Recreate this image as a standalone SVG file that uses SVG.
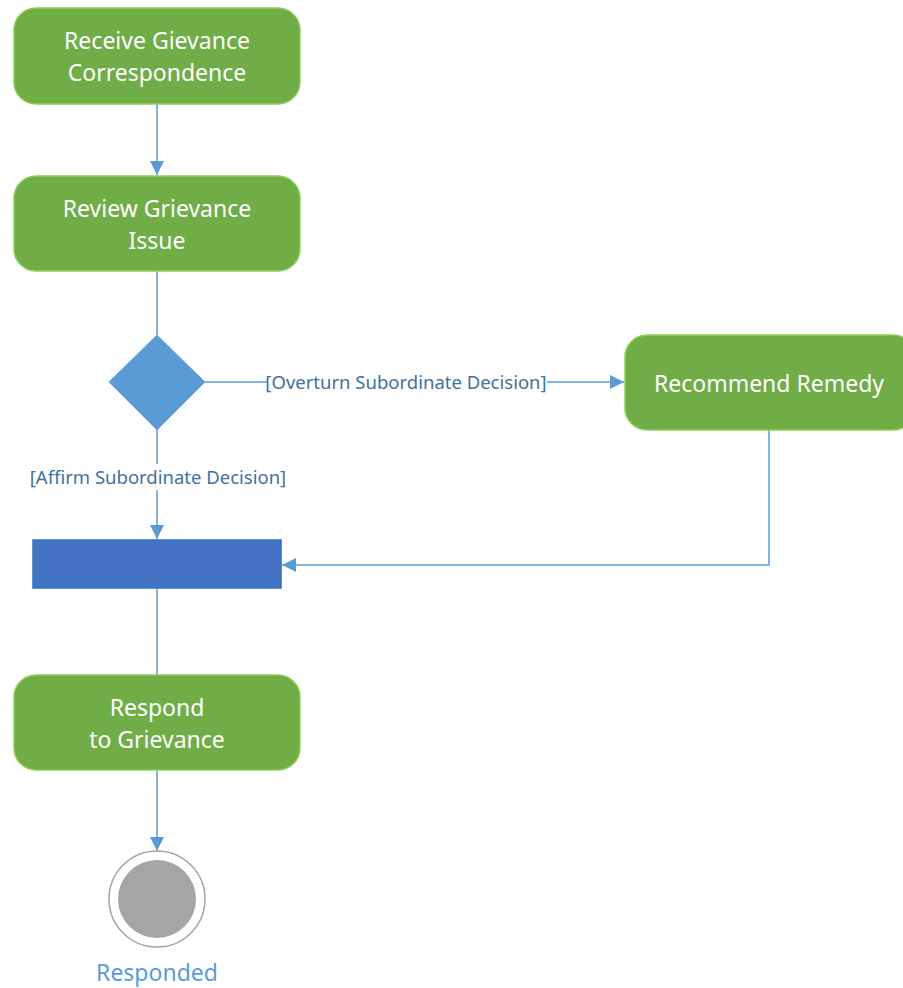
<svg xmlns="http://www.w3.org/2000/svg" width="903" height="988" viewBox="0 0 903 988">
<defs>
<style>
.act{fill:#70ad47;stroke:#8ccf5a;stroke-width:1.5}
.at{fill:#ffffff;font-family:"Noto Sans","Liberation Sans",sans-serif;font-size:23px;text-anchor:middle}
.ln{fill:none;stroke:#5b9bd5;stroke-width:1.5}
.lb{fill:#41719c;font-family:"Noto Sans","Liberation Sans",sans-serif;font-size:18.5px;text-anchor:middle}
</style>
<marker id="ah" viewBox="0 0 10 10" refX="10" refY="5" markerWidth="14" markerHeight="14" markerUnits="userSpaceOnUse" orient="auto">
<path d="M0,0 L10,5 L0,10 z" fill="#5b9bd5"/>
</marker>
</defs>
<rect width="903" height="988" fill="#ffffff"/>
<g id="connectors">
<line class="ln" x1="157" y1="104" x2="157" y2="175" marker-end="url(#ah)"/>
<line class="ln" x1="157" y1="271" x2="157" y2="335"/>
<line class="ln" x1="205" y1="382" x2="624" y2="382" marker-end="url(#ah)"/>
<rect x="267" y="370" width="280" height="24" fill="#ffffff"/>
<text class="lb" x="406" y="389">[Overturn Subordinate Decision]</text>
<line class="ln" x1="157" y1="430" x2="157" y2="539" marker-end="url(#ah)"/>
<rect x="30" y="464" width="256" height="26" fill="#ffffff"/>
<text class="lb" x="158" y="484">[Affirm Subordinate Decision]</text>
<polyline class="ln" points="769,430 769,565 282,565" marker-end="url(#ah)"/>
<line class="ln" x1="157" y1="588" x2="157" y2="675"/>
<line class="ln" x1="157" y1="770" x2="157" y2="851" marker-end="url(#ah)"/>
</g>
<g id="receive">
<rect class="act" x="14" y="8" width="286" height="96" rx="22"/>
<text class="at" x="157" y="49">Receive Gievance</text>
<text class="at" x="157" y="81">Correspondence</text>
</g>
<g id="review">
<rect class="act" x="14" y="176" width="286" height="95" rx="22"/>
<text class="at" x="157" y="217">Review Grievance</text>
<text class="at" x="157" y="249">Issue</text>
</g>
<g id="decision">
<polygon points="157,335 205,382 157,430 109,382" fill="#5b9bd5" stroke="#6fa8dc" stroke-width="1"/>
</g>
<g id="remedy">
<rect class="act" x="625" y="335" width="290" height="95" rx="22"/>
<text class="at" x="769" y="392">Recommend Remedy</text>
</g>
<g id="join">
<rect x="33" y="540" width="248" height="48" fill="#4472c4" stroke="#2e75b6" stroke-width="1.5"/>
</g>
<g id="respond">
<rect class="act" x="14" y="675" width="286" height="95" rx="22"/>
<text class="at" x="157" y="716">Respond</text>
<text class="at" x="157" y="748">to Grievance</text>
</g>
<g id="final">
<circle cx="157" cy="899" r="48" fill="#ffffff" stroke="#a5a5a5" stroke-width="1.5"/>
<circle cx="157" cy="899" r="39" fill="#a5a5a5"/>
<text x="157" y="981" fill="#5b9bd5" font-family="Noto Sans, Liberation Sans, sans-serif" font-size="23" text-anchor="middle">Responded</text>
</g>
</svg>
